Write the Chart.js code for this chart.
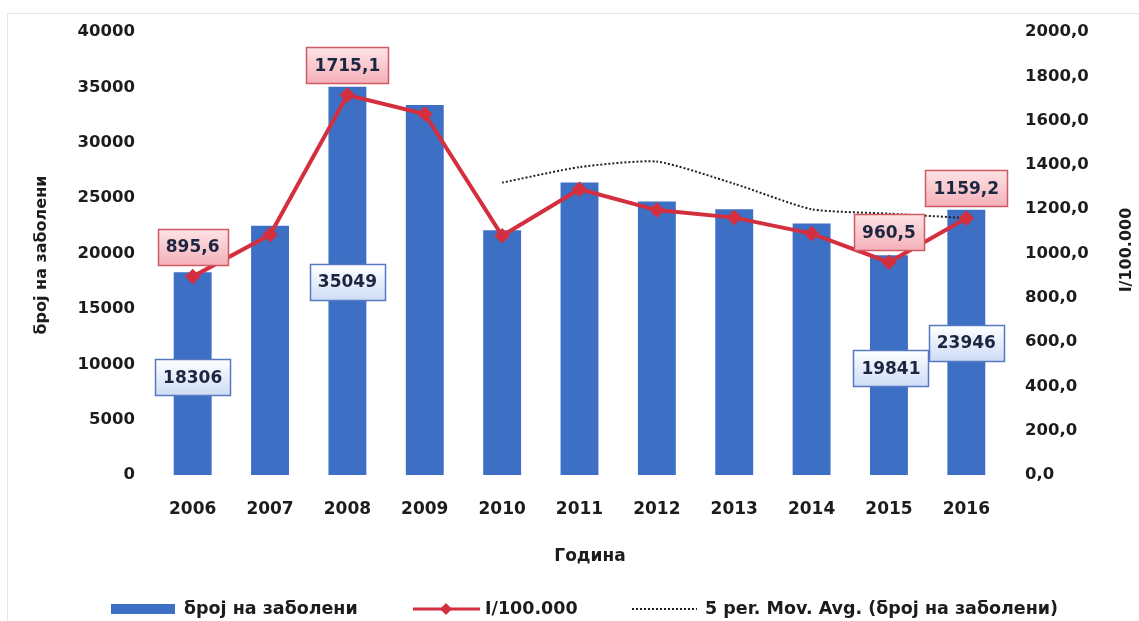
<!DOCTYPE html>
<html lang="mk">
<head>
  <meta charset="UTF-8">
  <title>број на заболени</title>
  <style>
    body {
      margin: 0;
      background: #fff;
    }
    #chart {
      display: block;
    }
  </style>
</head>
<body>
  <canvas id="chart" width="1139" height="621"></canvas>

  <script src="https://cdn.jsdelivr.net/npm/chart.js"></script>
  <script>
    // data
    const years = ['2006', '2007', '2008', '2009', '2010', '2011', '2012', '2013', '2014', '2015', '2016'];
    const cases = [18306, 22500, 35049, 33400, 22100, 26400, 24700, 24000, 22700, 19841, 23946];
    const incidence = [895.6, 1085, 1715.1, 1630, 1080, 1290, 1196, 1162, 1090, 960.5, 1159.2];
    const movAvg = [null, null, null, null, 26400, 27800, 28300, 26300, 24000, 23600, 23200];
    const leftTicks = [0, 40000, 5000];
    const rightTicks = [0, 2000, 200];
    // which points carry a boxed value label
    const barLabelYears = ['2006', '2008', '2015', '2016'];
    const lineLabelYears = ['2006', '2008', '2015', '2016'];

    const barColor = '#3d70c4';
    const lineColor = '#d42f3f';
    const textColor = '#1c1c1c';
    const fontFamily = '"DejaVu Sans", sans-serif';

    // label offsets (px) from the mark they belong to
    const barLabelDy = { '2006': 105, '2008': 195, '2015': 113, '2016': 133 };
    const barLabelDx = { '2006': 0, '2008': 0, '2015': 2, '2016': 0 };
    const lineLabelDy = -30;

    function fmtDec(v) {
      return v.toFixed(1).replace('.', ',');
    }

    function drawBox(ctx, cx, cy, text, kind) {
      ctx.save();
      ctx.font = 'bold 17px ' + fontFamily;
      const w = Math.round(ctx.measureText(text).width + 16);
      const h = 36;
      const x = Math.round(cx - w / 2) + 0.5;
      const y = Math.round(cy - h / 2) + 0.5;
      const g = ctx.createLinearGradient(0, y, 0, y + h);
      if (kind === 'blue') {
        g.addColorStop(0, '#ffffff');
        g.addColorStop(1, '#cddcf6');
        ctx.strokeStyle = '#5679c2';
      } else {
        g.addColorStop(0, '#fde3e6');
        g.addColorStop(1, '#f4b0b8');
        ctx.strokeStyle = '#cf5a64';
      }
      ctx.fillStyle = g;
      ctx.fillRect(x, y, w, h);
      ctx.lineWidth = 1.5;
      ctx.strokeRect(x, y, w, h);
      ctx.fillStyle = '#1d2640';
      ctx.textAlign = 'center';
      ctx.textBaseline = 'middle';
      ctx.fillText(text, cx, cy + 1);
      ctx.restore();
    }

    const boxLabels = {
      id: 'boxLabels',
      afterDatasetsDraw(chart) {
        const ctx = chart.ctx;
        const barMeta = chart.getDatasetMeta(0);
        const lineMeta = chart.getDatasetMeta(1);
        barLabelYears.forEach(yr => {
          const i = years.indexOf(yr);
          const el = barMeta.data[i];
          drawBox(ctx, el.x + barLabelDx[yr], el.y + barLabelDy[yr], String(cases[i]), 'blue');
        });
        lineLabelYears.forEach(yr => {
          const i = years.indexOf(yr);
          const el = lineMeta.data[i];
          drawBox(ctx, el.x, el.y + lineLabelDy, fmtDec(incidence[i]), 'red');
        });
      }
    };

    const extras = {
      id: 'extras',
      beforeDraw(chart) {
        const ctx = chart.ctx;
        ctx.save();
        ctx.strokeStyle = '#e6e6e6';
        ctx.lineWidth = 1;
        ctx.beginPath();
        ctx.moveTo(7.5, 621);
        ctx.lineTo(7.5, 13.5);
        ctx.lineTo(1139, 13.5);
        ctx.stroke();
        ctx.restore();
      },
      afterDraw(chart) {
        const ctx = chart.ctx;
        ctx.save();
        ctx.fillStyle = textColor;
        ctx.textBaseline = 'middle';

        // axis titles
        ctx.font = 'bold 16px ' + fontFamily;
        ctx.textAlign = 'center';
        ctx.save();
        ctx.translate(42, 255);
        ctx.rotate(-Math.PI / 2);
        ctx.fillText('број на заболени', 0, 0);
        ctx.restore();
        ctx.save();
        ctx.translate(1127, 250);
        ctx.rotate(-Math.PI / 2);
        ctx.fillText('I/100.000', 0, 0);
        ctx.restore();
        ctx.font = 'bold 17px ' + fontFamily;
        ctx.fillText('Година', 590, 557);

        // legend
        const ly = 609;
        ctx.font = 'bold 17.5px ' + fontFamily;
        ctx.textAlign = 'left';
        ctx.fillStyle = barColor;
        ctx.fillRect(111, ly - 5, 64, 10);
        ctx.fillStyle = textColor;
        ctx.fillText(chart.data.datasets[0].label, 184, ly);

        ctx.strokeStyle = lineColor;
        ctx.lineWidth = 3;
        ctx.beginPath();
        ctx.moveTo(413, ly);
        ctx.lineTo(480, ly);
        ctx.stroke();
        ctx.fillStyle = lineColor;
        ctx.beginPath();
        ctx.moveTo(446, ly - 6);
        ctx.lineTo(452, ly);
        ctx.lineTo(446, ly + 6);
        ctx.lineTo(440, ly);
        ctx.closePath();
        ctx.fill();
        ctx.fillStyle = textColor;
        ctx.fillText(chart.data.datasets[1].label, 485, ly);

        ctx.strokeStyle = '#222';
        ctx.lineWidth = 2;
        ctx.setLineDash([2, 2]);
        ctx.beginPath();
        ctx.moveTo(632, ly);
        ctx.lineTo(697, ly);
        ctx.stroke();
        ctx.setLineDash([]);
        ctx.fillText(chart.data.datasets[2].label, 705, ly);
        ctx.restore();
      }
    };

    const tickFont = { family: fontFamily, size: 16.5, weight: 'bold' };

    new Chart(document.getElementById('chart').getContext('2d'), {
      data: {
        labels: years,
        datasets: [
          {
            type: 'bar',
            label: 'број на заболени',
            data: cases,
            yAxisID: 'y',
            backgroundColor: barColor,
            barPercentage: 0.49,
            categoryPercentage: 1,
            order: 3
          },
          {
            type: 'line',
            label: 'I/100.000',
            data: incidence,
            yAxisID: 'y1',
            borderColor: lineColor,
            borderWidth: 4,
            pointStyle: 'rectRot',
            pointRadius: 5,
            pointBackgroundColor: lineColor,
            pointBorderColor: lineColor,
            tension: 0,
            order: 1
          },
          {
            type: 'line',
            label: '5 per. Mov. Avg. (број на заболени)',
            data: movAvg,
            yAxisID: 'y',
            borderColor: '#222',
            borderWidth: 2,
            borderDash: [2, 2],
            pointRadius: 0,
            tension: 0.2,
            order: 2
          }
        ]
      },
      options: {
        responsive: false,
        animation: false,
        devicePixelRatio: 1,
        layout: { padding: { top: 32, left: 0, right: 0, bottom: 0 } },
        plugins: {
          legend: { display: false },
          tooltip: { enabled: false }
        },
        scales: {
          x: {
            grid: { display: false, drawTicks: false },
            border: { display: false },
            ticks: { font: { family: fontFamily, size: 17, weight: 'bold' }, color: textColor, padding: 24 },
            afterFit(s) { s.height = 146; }
          },
          y: {
            position: 'left',
            min: leftTicks[0],
            max: leftTicks[1],
            grid: { display: false, drawTicks: false },
            border: { display: false },
            ticks: { stepSize: leftTicks[2], font: tickFont, color: textColor, padding: 19, callback: v => String(v) },
            afterFit(s) { s.width = 154; }
          },
          y1: {
            position: 'right',
            min: rightTicks[0],
            max: rightTicks[1],
            grid: { display: false, drawTicks: false },
            border: { display: false },
            ticks: { stepSize: rightTicks[2], font: tickFont, color: textColor, padding: 20, callback: v => fmtDec(v) },
            afterFit(s) { s.width = 134; }
          }
        }
      },
      plugins: [boxLabels, extras]
    });
  </script>
</body>
</html>
